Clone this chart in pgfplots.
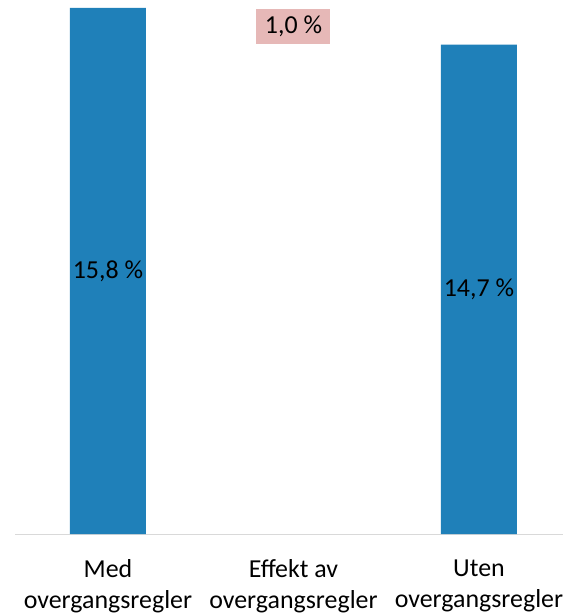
\documentclass[border=0pt]{standalone}
\usepackage{pgfplots}
\pgfplotsset{compat=1.18}
\usepackage{fontspec}
\setmainfont{Carlito}
\definecolor{barblue}{RGB}{31,128,185}
\definecolor{labpink}{RGB}{230,184,183}
\definecolor{axgray}{RGB}{217,217,217}
\begin{document}
\begin{tikzpicture}
\begin{axis}[
  at={(15bp,82bp)}, anchor=south west,
  scale only axis, width=548bp, height=526bp,
  xmin=-0.501, xmax=2.453, ymin=0, ymax=15.8,
  axis y line=none, axis x line=bottom,
  x axis line style={-, draw=axgray, line width=1bp},
  xtick={0,1,2},
  xticklabels={{Med\\overgangsregler},{Effekt av\\overgangsregler},{Uten\\overgangsregler}},
  major tick length=0pt,
  xticklabel style={font=\fontsize{26}{31}\selectfont, align=center, yshift=-22bp},
  ybar, bar width=76bp, clip=false,
]
\addplot[fill=barblue, draw=none] coordinates {(0,15.8) (2,14.7)};
\node[font=\fontsize{26}{31}\selectfont] at (axis cs:0,7.9) {15,8 \%};
\node[font=\fontsize{26}{31}\selectfont] at (axis cs:2,7.35) {14,7 \%};
\node[font=\fontsize{26}{31}\selectfont, fill=labpink, inner sep=0pt, minimum width=74bp, minimum height=35bp] at (axis cs:1,15.25) {1,0 \%};
\end{axis}
\pgfresetboundingbox
\path[use as bounding box] (0,0) rectangle (563bp,616bp);
\end{tikzpicture}
\end{document}
